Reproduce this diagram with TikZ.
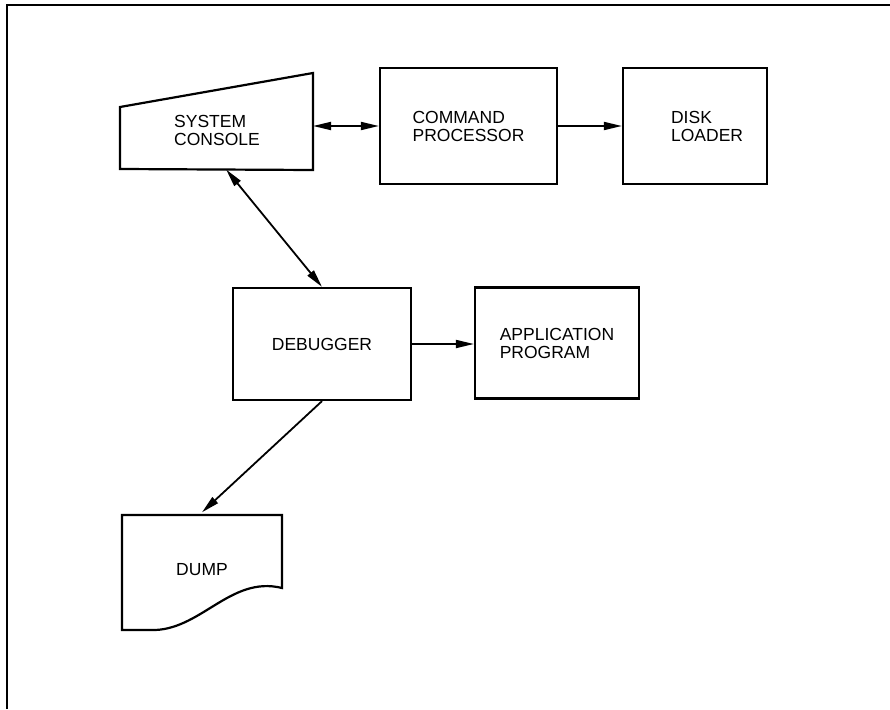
\documentclass[tikz,border=0pt]{standalone}
\usepackage{fontspec}
\setmainfont{Liberation Sans}
\usetikzlibrary{arrows.meta,calc,positioning}
\tikzset{
  >={Triangle[length=18pt,width=8pt]},
  block/.style={rectangle, draw=black, line width=2.2pt, align=left,
                font=\fontsize{17.5}{18}\selectfont},
  lbl/.style={align=left, inner sep=0pt, font=\fontsize{17.5}{18}\selectfont},
  outline/.style={draw=black, line width=2.2pt, line join=miter},
  link/.style={draw, line width=1.8pt, ->},
  duallink/.style={draw, line width=1.8pt, <->}
}

\begin{document}
\begin{tikzpicture}[x=1pt,y=-1pt]
    \useasboundingbox (0,0) rectangle (890,709);
    % Frame
    \draw [line width=2.6pt] (7,709) -- (7,5) -- (890,5);

    % System console
    \coordinate (con-sw) at (120,169);
    \coordinate (con-se) at (313,170);
    \draw [outline] (con-sw) -- (120,107) -- (313,73) -- (con-se) -- cycle;
    \node [lbl] (console) at (217,130) {SYSTEM\\CONSOLE};

    % Boxes
    \node [block, minimum width=177, minimum height=116] (cmd) at (468.5,126) {COMMAND\\PROCESSOR};
    \node [block, minimum width=144, minimum height=116] (disk) at (695,126) {};
    \node [lbl, anchor=west] (disk-t) at ([xshift=49]disk.west) {DISK\\LOADER};
    \node [block, minimum width=178, minimum height=112] (dbg) at (322,344) {DEBUGGER};
    \node [block, minimum width=164, minimum height=111] (app) at (557,343) {APPLICATION\\PROGRAM};

    % Dump
    \node [lbl, minimum width=160, minimum height=115] (dump) at (202,570) {DUMP};
    \draw [outline] (122,630) -- (122,515) -- (282,515) -- (282,588)
          .. controls (230,575) and (200,632) .. (150,630) -- cycle;

    % Connections
    \draw [duallink] (cmd.west) -- (cmd.west -| con-se);
    \draw [link] (cmd.east) -- (disk.west);
    \draw [duallink] ($(con-sw)!0.55!(con-se)$) -- (dbg.north);
    \draw [link] (dbg.east) -- (dbg.east -| app.west);
    \draw [link] (dbg.south) -- (dump.north);

\end{tikzpicture}
\end{document}
